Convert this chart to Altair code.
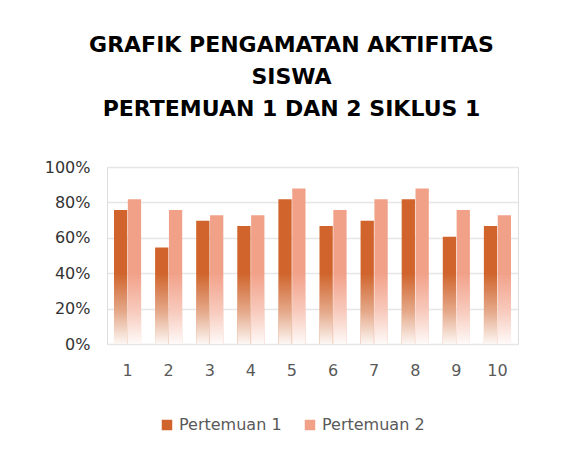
import altair as alt
import pandas as pd

categories = [str(i) for i in range(1, 11)]
pertemuan1 = [0.7576, 0.5455, 0.6970, 0.6667, 0.8182, 0.6667, 0.6970, 0.8182, 0.6061, 0.6667]
pertemuan2 = [0.8182, 0.7576, 0.7273, 0.7273, 0.8788, 0.7576, 0.8182, 0.8788, 0.7576, 0.7273]
series = ["Pertemuan 1", "Pertemuan 2"]
colors = ["#D0642C", "#F2A189"]
y_ticks = [0, 0.2, 0.4, 0.6, 0.8, 1.0]
title_lines = ["GRAFIK PENGAMATAN AKTIFITAS", "SISWA", "PERTEMUAN 1 DAN 2 SIKLUS 1"]

rows = []
for c, a, b in zip(categories, pertemuan1, pertemuan2):
    rows.append({"kat": c, "seri": series[0], "nilai": a})
    rows.append({"kat": c, "seri": series[1], "nilai": b})
df = pd.DataFrame(rows)

FONT = "DejaVu Sans"

x_enc = alt.X("kat:N", sort=categories, title=None,
              scale=alt.Scale(paddingInner=0.34, paddingOuter=0.17),
              axis=alt.Axis(labelAngle=0, domain=False, ticks=False, labelPadding=18,
                            labelFontSize=16, labelColor="#595959", labelFont=FONT))
xo_enc = alt.XOffset("seri:N", sort=series, scale=alt.Scale(paddingInner=0.04))
y_axis = alt.Axis(values=y_ticks, format=".0%", domain=False, ticks=False,
                  labelPadding=17, labelFontSize=16, labelColor="#333333",
                  labelFont=FONT, gridColor="#E6E6E6", gridWidth=1.5)
y_enc = alt.Y("nilai:Q", title=None, scale=alt.Scale(domain=[0, 1]), axis=y_axis)

bars = alt.Chart(df).mark_bar().encode(
    x=x_enc, xOffset=xo_enc, y=y_enc,
    color=alt.Color("seri:N", sort=series, title=None,
                    scale=alt.Scale(domain=series, range=colors),
                    legend=alt.Legend(orient="none", direction="horizontal",
                                      legendX=52, legendY=250,
                                      symbolType="square", symbolSize=110,
                                      labelFontSize=16, labelColor="#595959",
                                      labelFont=FONT, columnPadding=20,
                                      symbolStrokeWidth=0)),
)

fade = alt.Gradient(
    gradient="linear", x1=0, y1=0, x2=0, y2=1,
    stops=[alt.GradientStop(offset=0, color="rgba(255,255,255,0)"),
           alt.GradientStop(offset=0.55, color="rgba(255,255,255,0.45)"),
           alt.GradientStop(offset=1, color="rgba(255,255,255,0.95)")],
)

overlay = alt.Chart(df).transform_calculate(
    fade_top="0.4"
).mark_bar(fill=fade).encode(
    x=x_enc, xOffset=xo_enc,
    y=alt.Y("fade_top:Q", title=None, scale=alt.Scale(domain=[0, 1]), axis=y_axis),
)

chart = alt.layer(bars, overlay).properties(
    width=411, height=177,
    title=alt.TitleParams(text=title_lines, fontSize=22, font="DejaVu Sans", fontWeight="bold",
                          color="#000000", lineHeight=32, offset=38, anchor="middle", dx=-21),
    padding={"left": 36, "top": 26, "right": 30, "bottom": 60},
).configure_view(strokeWidth=0).configure(background="white")

chart.save("out.html", embed_options={"renderer": "svg", "actions": False})
